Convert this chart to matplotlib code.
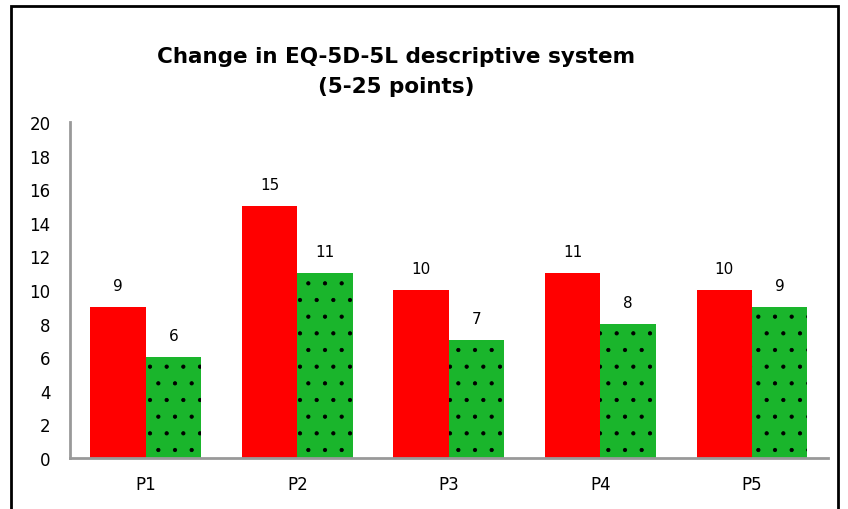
import numpy as np
import matplotlib.pyplot as plt
from matplotlib.patches import Rectangle

# Data
categories = ["P1", "P2", "P3", "P4", "P5"]
red_values = [9, 15, 10, 11, 10]
green_values = [6, 11, 7, 8, 9]

plt.rcParams['font.family'] = ['DejaVu Sans']
plt.rcParams['hatch.linewidth'] = 0.6

fig = plt.figure(figsize=(8.48, 5.10), dpi=100)
ax = fig.add_axes([0.0825, 0.1, 0.8935, 0.659])

x = np.arange(len(categories))
w = 0.365
bars_r = ax.bar(x - w / 2, red_values, w, color="#ff0000", linewidth=0)
bars_g = ax.bar(x + w / 2, green_values, w, color="#1ab52c", edgecolor="black",
                hatch=".", linewidth=0)

for b, v in zip(bars_r, red_values):
    ax.annotate(str(v), (b.get_x() + b.get_width() / 2, v), xytext=(0, 10),
                textcoords="offset points", ha="center", va="bottom", fontsize=11)
for b, v in zip(bars_g, green_values):
    ax.annotate(str(v), (b.get_x() + b.get_width() / 2, v), xytext=(0, 10),
                textcoords="offset points", ha="center", va="bottom", fontsize=11)

ax.set_xlim(-0.5, len(categories) - 0.5)
ax.set_ylim(0, 20)
ax.set_yticks(range(0, 21, 2))
ax.set_xticks(x)
ax.set_xticklabels(categories)
ax.tick_params(axis="both", length=0, labelsize=12)
ax.tick_params(axis="x", pad=12)
ax.tick_params(axis="y", pad=14)
for s in ["top", "right"]:
    ax.spines[s].set_visible(False)
for s in ["left", "bottom"]:
    ax.spines[s].set_color("#999999")
    ax.spines[s].set_linewidth(2)

fig.text(0.467, 0.859, "Change in EQ-5D-5L descriptive system\n(5-25 points)",
         ha="center", va="center", fontsize=15.5, fontweight="bold", linespacing=1.6)

# Outer frame
fig.patches.append(Rectangle((11 / 848, -0.05), 827 / 848, 1 - 7 / 510 + 0.05,
                             transform=fig.transFigure, fill=False,
                             edgecolor="black", linewidth=2))

fig.savefig("out.png", dpi=100)
